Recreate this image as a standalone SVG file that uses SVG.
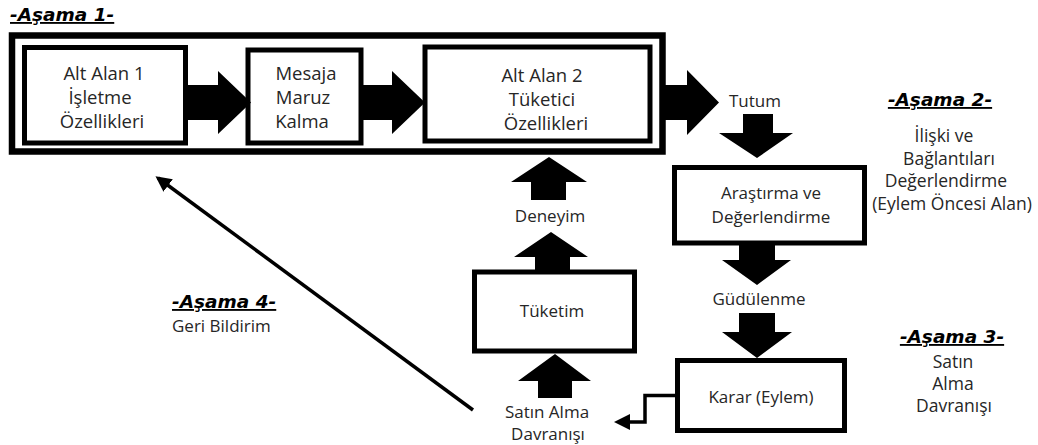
<svg xmlns="http://www.w3.org/2000/svg" width="1038" height="445" viewBox="0 0 1038 445">
<style>
.box{fill:#fff;stroke:#000;stroke-width:5}
.frame{fill:none;stroke:#000;stroke-width:6.5}
.t{font-family:"Open Sans","Liberation Sans",sans-serif;font-size:17px;fill:#262626;text-anchor:middle}
.tb{font-size:18.5px}
.ts{font-size:17.5px}
.h{font-family:"DejaVu Sans","Liberation Sans",sans-serif;font-size:18.5px;font-weight:bold;font-style:italic;fill:#000;text-decoration:underline}
.ba{fill:#000;stroke:none}
.ln{fill:none;stroke:#000;stroke-width:3.5}
</style>
<defs>
<marker id="ah" viewBox="0 0 10 10" refX="8" refY="5" markerWidth="4.5" markerHeight="4.5" orient="auto" markerUnits="strokeWidth">
<path d="M0,0 L10,5 L0,10 Z" fill="#000"/>
</marker>
</defs>
<rect width="1038" height="445" fill="#fff"/>

<g id="stage1">
<text class="h" x="10" y="21">-Aşama 1-</text>
<rect class="frame" x="12" y="35.5" width="650.5" height="116"/>
</g>

<g id="node-altalan1">
<rect class="box" x="24.5" y="47.5" width="161" height="95.5"/>
<text class="t tb" x="104" y="80">Alt Alan 1</text>
<text class="t tb" x="100" y="104">İşletme</text>
<text class="t tb" x="102" y="128">Özellikleri</text>
</g>

<g id="node-mesaja">
<rect class="box" x="248" y="50" width="113" height="93"/>
<text class="t tb" x="306" y="80">Mesaja</text>
<text class="t tb" x="303" y="104">Maruz</text>
<text class="t tb" x="302" y="128">Kalma</text>
</g>

<g id="node-altalan2">
<rect class="box" x="425" y="47" width="225" height="94"/>
<text class="t tb" x="542" y="82">Alt Alan 2</text>
<text class="t tb" x="542" y="106">Tüketici</text>
<text class="t tb" x="546" y="130">Özellikleri</text>
</g>

<g id="node-tutum">
<text class="t" x="755" y="107">Tutum</text>
</g>

<g id="stage2">
<text class="h" x="940" y="106" text-anchor="middle">-Aşama 2-</text>
<text class="t ts" x="944" y="142">İlişki ve</text>
<text class="t ts" x="949" y="165">Bağlantıları</text>
<text class="t ts" x="946" y="187">Değerlendirme</text>
<text class="t ts" x="952" y="210">(Eylem Öncesi Alan)</text>
</g>

<g id="node-arastirma">
<rect class="box" x="674.5" y="167.5" width="190" height="75.5"/>
<text class="t" x="771" y="199">Araştırma ve</text>
<text class="t" x="771" y="223">Değerlendirme</text>
</g>

<g id="node-gudulenme">
<text class="t" x="759" y="305">Güdülenme</text>
</g>

<g id="node-karar">
<rect class="box" x="677.5" y="360.5" width="167" height="70"/>
<text class="t" x="761" y="403">Karar (Eylem)</text>
</g>

<g id="stage3">
<text class="h" x="952" y="343" text-anchor="middle">-Aşama 3-</text>
<text class="t ts" x="953" y="368">Satın</text>
<text class="t ts" x="953" y="390">Alma</text>
<text class="t ts" x="954" y="412">Davranışı</text>
</g>

<g id="node-satin">
<text class="t" x="547" y="418">Satın Alma</text>
<text class="t" x="548" y="440">Davranışı</text>
</g>

<g id="node-tuketim">
<rect class="box" x="474.5" y="272" width="160" height="79"/>
<text class="t" x="552" y="317">Tüketim</text>
</g>

<g id="node-deneyim">
<text class="t" x="550" y="222">Deneyim</text>
</g>

<g id="stage4">
<text class="h" x="172" y="308">-Aşama 4-</text>
<text class="t" x="172" y="332" style="text-anchor:start">Geri Bildirim</text>
</g>

<g id="connectors">
<path class="ba" d="M186,85 H218 V71 L251,102.5 L218,134 V120 H186 Z"/>
<path class="ba" d="M361,85 H392 V71 L425,102.5 L392,134 V120 H361 Z"/>
<path class="ba" d="M663,85 H687 V70 L719,102.5 L687,135 V120 H663 Z"/>
<path class="ba" d="M743,114 H773 V133 H793 L757,158 L719,133 H743 Z"/>
<path class="ba" d="M739,243 H775 V260 H791 L757,285 L722,260 H739 Z"/>
<path class="ba" d="M739,313 H775 V332 H792 L757,358 L722,332 H739 Z"/>
<path class="ba" d="M531,200 V182 H511 L549,157 L587,182 H566 V200 Z"/>
<path class="ba" d="M535,272 V257 H514 L551,232 L588,257 H570 V272 Z"/>
<path class="ba" d="M538,398 V381 H518 L555,354 L591,381 H572 V398 Z"/>
<polyline class="ln" points="677,395.5 645,395.5 645,422 628,422"/>
<path class="ba" d="M630,414 L614,422 L630,430 Z"/>
<line class="ln" x1="473" y1="410" x2="158" y2="178" marker-end="url(#ah)"/>
</g>
</svg>
